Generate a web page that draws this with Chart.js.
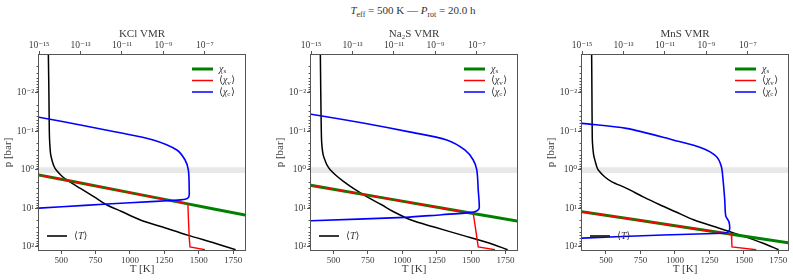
<!DOCTYPE html>
<html>
<head>
<meta charset="utf-8">
<script src="https://cdn.jsdelivr.net/npm/chart.js@4.4.1/dist/chart.umd.min.js"></script>
<style>
  body { margin:0; background:#fff; width:793px; height:280px; position:relative; overflow:hidden; }
  canvas { position:absolute; top:0; }
  #title { position:absolute; top:4px; left:293px; width:240px; text-align:center; font:11px 'Liberation Serif', 'DejaVu Serif', serif; color:#333; white-space:nowrap; }
  #title sub { font-size:8px; }
</style>
</head>
<body>
<div id="title"><i>T</i><sub>eff</sub> = 500 K — <i>P</i><sub>rot</sub> = 20.0 h</div>
<canvas id="kcl" width="264" height="280" style="left:0px"></canvas>
<canvas id="na2s" width="264" height="280" style="left:272px"></canvas>
<canvas id="mns" width="250" height="280" style="left:543px"></canvas>
<script>
const SERIF = "'Liberation Serif', 'DejaVu Serif', serif";
const TXT = '#3a3a3a';
const AX = '#555';

// ticks
const P_TICKS = [1e-2, 1e-1, 1e0, 1e1, 1e2];
const VMR_TICKS = [1e-15, 1e-13, 1e-11, 1e-9, 1e-7];
const T_TICKS = [500, 750, 1000, 1250, 1500, 1750];
const P_BAND = [0.85, 1.2];

// temperature profiles (bar -> K)
const TP_P   = [0.001, 0.01, 0.1, 0.2, 0.4, 0.6, 0.8, 1, 1.5, 2, 3, 5, 8, 12, 20, 30, 50, 80, 118];
const KCL_T  = [407, 411, 414, 417, 424, 436, 448, 464, 510, 560, 640, 740, 830, 939, 1076, 1231, 1425, 1618, 1768];
const NA2S_T = [405, 408, 412, 415, 425, 442, 458, 478, 530, 575, 645, 745, 850, 934, 1065, 1226, 1440, 1636, 1766];
const MNS_T  = [396, 398, 400, 402, 410, 422, 432, 444, 490, 540, 650, 770, 890, 1000, 1140, 1290, 1480, 1640, 1752];

// KCl
const KCL_SAT_P = [1, 2, 5, 7.6, 10, 20];
const KCL_SAT   = [5.8e-17, 4.3e-14, 2.7e-10, 1.5e-8, 2.0e-7, 1.5e-4];
const KCL_VAP_P = [1, 2, 5, 7.6, 20, 60, 100, 118];
const KCL_VAP   = [5.8e-17, 4.3e-14, 2.7e-10, 1.5e-8, 1.6e-8, 1.75e-8, 1.9e-8, 1.0e-7];
const KCL_CLD_P = [0.0316, 0.0427, 0.0698, 0.103, 0.166, 0.302, 0.55, 1, 3.3, 5, 5.75, 6.2, 7.1, 8.3, 9.8, 10.7];
const KCL_CLD   = [3.2e-17, 1e-15, 1.32e-13, 5.1e-12, 3.2e-10, 4.4e-9, 1.1e-8, 1.58e-8, 1.74e-8, 1.66e-8, 1.12e-8, 2.5e-9, 2.45e-11, 1.6e-13, 1e-15, 3.2e-17];

// Na2S
const NA2S_SAT_P = [2, 5, 10, 13.5, 25];
const NA2S_SAT   = [8.7e-17, 1.6e-12, 2.7e-9, 6.6e-8, 4.9e-5];
const NA2S_VAP_P = [2, 5, 10, 13.5, 30, 60, 100, 118];
const NA2S_VAP   = [8.7e-17, 1.6e-12, 2.7e-9, 6.6e-8, 8.3e-8, 1.0e-7, 1.15e-7, 7.4e-7];
const NA2S_CLD_P = [0.0282, 0.0355, 0.0601, 0.1038, 0.166, 0.302, 0.55, 1, 3.31, 9.55, 11.2, 12.3, 13.2, 14.5, 17.0, 20.9, 22.9];
const NA2S_CLD   = [5e-17, 1e-15, 3.2e-13, 6.3e-11, 3.5e-9, 2.6e-8, 6.6e-8, 9.8e-8, 1.15e-7, 1.29e-7, 1.07e-7, 7.1e-8, 2.5e-8, 2.0e-9, 3.4e-11, 1e-15, 1e-17];

// MnS
const MNS_SAT_P = [10, 20, 31.6, 46.8, 100];
const MNS_SAT   = [9.5e-17, 4.7e-13, 1.3e-10, 1.58e-8, 1.8e-4];
const MNS_VAP_P = [10, 20, 31.6, 46.8, 70, 100, 118];
const MNS_VAP   = [9.5e-17, 4.7e-13, 1.3e-10, 1.58e-8, 1.65e-8, 1.7e-8, 2.5e-7];
const MNS_CLD_P = [0.050, 0.0617, 0.0832, 0.166, 0.275, 0.447, 0.813, 1.82, 6.03, 15.5, 21.9, 33.1, 39.8, 42.7, 44.7, 49.0, 58.9, 63.1];
const MNS_CLD   = [3.2e-17, 1e-15, 1.38e-13, 2.45e-11, 6.8e-10, 3.0e-9, 5.2e-9, 6.3e-9, 7.6e-9, 8.5e-9, 1.2e-8, 1.32e-8, 1.17e-8, 9.1e-9, 2.5e-9, 7.9e-12, 1e-15, 3.2e-17];

const SUP = {'-': '⁻', '0': '⁰', '1': '¹', '2': '²', '3': '³', '4': '⁴', '5': '⁵', '6': '⁶', '7': '⁷', '8': '⁸', '9': '⁹'};
function powLabel(v) {
    const e = Math.round(Math.log10(v));
    return '10' + String(e).split('').map(c => SUP[c]).join('');
}

// legend text pieces: [text, italic, subscript]
const LEG_MAIN = [
    { color: 'green', width: 3, parts: [['χ', true, false], ['s', false, true]] },
    { color: 'red', width: 1.5, parts: [['⟨', false, false], ['χ', true, false], ['v', false, true], ['⟩', false, false]] },
    { color: 'blue', width: 1.5, parts: [['⟨', false, false], ['χ', true, false], ['c', false, true], ['⟩', false, false]] }
];
const LEG_T = [['⟨', false, false], ['T', true, false], ['⟩', false, false]];

function drawMath(ctx, x, y, parts) {
    parts.forEach(([t, it, sub]) => {
        const size = sub ? 7 : 10;
        ctx.font = (it ? 'italic ' : '') + size + 'px ' + SERIF;
        ctx.fillText(t, x, y + (sub ? 2.5 : 0));
        x += ctx.measureText(t).width + (sub ? 0.5 : 0);
    });
}

const decor = {
    id: 'decor',
    beforeDatasetsDraw(chart) {
        const { ctx, chartArea: a, scales } = chart;
        const y0 = scales.y.getPixelForValue(P_BAND[0]);
        const y1 = scales.y.getPixelForValue(P_BAND[1]);
        ctx.save();
        ctx.fillStyle = '#e8e8e8';
        ctx.fillRect(a.left, Math.min(y0, y1), a.right - a.left, Math.abs(y1 - y0));
        ctx.restore();
    },
    afterDatasetsDraw(chart) {
        const { ctx, chartArea: a, scales } = chart;
        ctx.save();
        // frame
        ctx.strokeStyle = AX;
        ctx.lineWidth = 1;
        ctx.strokeRect(Math.round(a.left) - 0.5, Math.round(a.top) - 0.5, Math.round(a.right - a.left) + 1, Math.round(a.bottom - a.top) + 1);
        // minor ticks on pressure axis
        ctx.beginPath();
        for (let d = -3; d <= 2; d++) {
            for (let m = 2; m <= 9; m++) {
                const v = m * Math.pow(10, d);
                if (v < scales.y.min || v > scales.y.max) continue;
                const py = Math.round(scales.y.getPixelForValue(v)) + 0.5;
                ctx.moveTo(a.left - 2.5, py);
                ctx.lineTo(a.left, py);
            }
        }
        ctx.stroke();
        // legends
        ctx.textBaseline = 'middle';
        ctx.fillStyle = '#333';
        LEG_MAIN.forEach((r, i) => {
            const y = a.top + 14 + i * 11.5;
            ctx.strokeStyle = r.color;
            ctx.lineWidth = r.width;
            ctx.beginPath();
            ctx.moveTo(a.right - 53, y);
            ctx.lineTo(a.right - 32, y);
            ctx.stroke();
            drawMath(ctx, a.right - 26, y, r.parts);
        });
        const ty = a.bottom - 14;
        ctx.strokeStyle = '#222';
        ctx.lineWidth = 1.8;
        ctx.beginPath();
        ctx.moveTo(a.left + 8, ty);
        ctx.lineTo(a.left + 28, ty);
        ctx.stroke();
        drawMath(ctx, a.left + 35, ty, LEG_T);
        ctx.restore();
    }
};

function line(label, color, width, ps, xs, axis, tension) {
    return {
        label,
        data: ps.map((p, i) => ({ x: xs[i], y: p })),
        borderColor: color,
        borderWidth: width,
        pointRadius: 0,
        showLine: true,
        fill: false,
        tension: tension,
        xAxisID: axis,
        yAxisID: 'y'
    };
}

function makePanel(id, opt) {
    const logFont = { family: SERIF, size: 9.5 };
    const tickFont = { family: SERIF, size: 9 };
    const titleFont = { family: SERIF, size: 11 };
    new Chart(document.getElementById(id), {
        type: 'scatter',
        data: {
            datasets: [
                line('⟨χc⟩', 'blue', 1.6, opt.cldP, opt.cld, 'xV', 0.3),
                line('⟨χv⟩', 'red', 1.4, opt.vapP, opt.vap, 'xV', 0),
                line('χs', 'green', 3, opt.satP, opt.sat, 'xV', 0),
                line('⟨T⟩', 'black', 1.5, TP_P, opt.temp, 'xT', 0.3)
            ]
        },
        options: {
            responsive: false,
            animation: false,
            devicePixelRatio: 1,
            layout: { padding: { left: 0, right: opt.padRight, top: 0, bottom: 0 } },
            plugins: { legend: { display: false }, tooltip: { enabled: false } },
            scales: {
                xT: {
                    type: 'linear', position: 'bottom', min: opt.tMin, max: opt.tMax,
                    afterBuildTicks: s => { s.ticks = T_TICKS.map(v => ({ value: v })); },
                    afterFit: s => { s.height = 30; },
                    ticks: { callback: v => String(v), color: TXT, font: tickFont, padding: 1, maxRotation: 0, autoSkip: false },
                    grid: { drawOnChartArea: false, tickLength: 4, tickColor: AX },
                    border: { display: false },
                    title: { display: true, text: 'T [K]', color: TXT, font: titleFont, padding: { top: 0, bottom: 4 } }
                },
                xV: {
                    type: 'logarithmic', position: 'top', min: 1e-15, max: 8.5e-6,
                    afterBuildTicks: s => { s.ticks = VMR_TICKS.map(v => ({ value: v })); },
                    afterFit: s => { s.height = 55; },
                    ticks: { callback: v => powLabel(v), color: TXT, font: logFont, padding: 0, maxRotation: 0, autoSkip: false },
                    grid: { drawOnChartArea: false, tickLength: 4, tickColor: AX },
                    border: { display: false },
                    title: { display: true, text: opt.species + ' VMR', color: TXT, font: titleFont, padding: { top: 28, bottom: 0 } }
                },
                y: {
                    type: 'logarithmic', position: 'left', reverse: true, min: 1.03e-3, max: 120,
                    afterBuildTicks: s => { s.ticks = P_TICKS.map(v => ({ value: v })); },
                    afterFit: s => { s.width = 39; },
                    ticks: { callback: v => powLabel(v), color: TXT, font: logFont, padding: 1, autoSkip: false },
                    grid: { drawOnChartArea: false, tickLength: 4, tickColor: AX },
                    border: { display: false },
                    title: { display: true, text: 'p [bar]', color: TXT, font: titleFont, padding: { top: 2, bottom: 0 } }
                }
            }
        },
        plugins: [decor]
    });
}

makePanel('kcl', {
    species: 'KCl', tMin: 339, tMax: 1836, padRight: 19, temp: KCL_T,
    satP: KCL_SAT_P, sat: KCL_SAT, vapP: KCL_VAP_P, vap: KCL_VAP, cldP: KCL_CLD_P, cld: KCL_CLD
});
makePanel('na2s', {
    species: 'Na₂S', tMin: 337, tMax: 1834, padRight: 19, temp: NA2S_T,
    satP: NA2S_SAT_P, sat: NA2S_SAT, vapP: NA2S_VAP_P, vap: NA2S_VAP, cldP: NA2S_CLD_P, cld: NA2S_CLD
});
makePanel('mns', {
    species: 'MnS', tMin: 326, tMax: 1820, padRight: 5, temp: MNS_T,
    satP: MNS_SAT_P, sat: MNS_SAT, vapP: MNS_VAP_P, vap: MNS_VAP, cldP: MNS_CLD_P, cld: MNS_CLD
});
</script>
</body>
</html>
